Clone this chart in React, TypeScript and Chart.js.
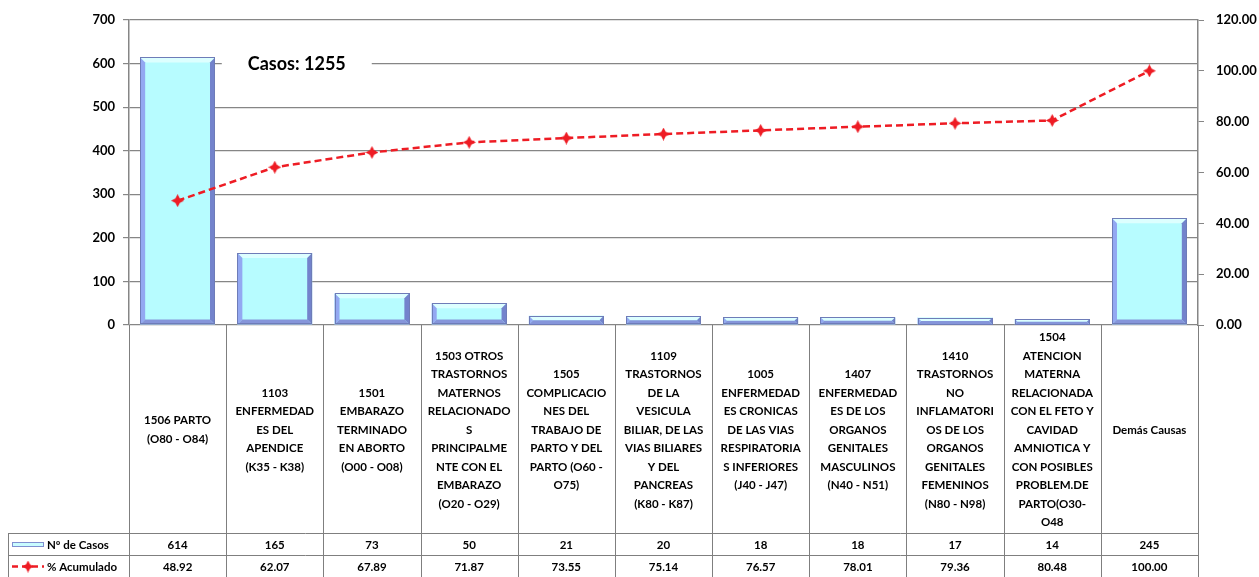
import { useEffect, useRef } from 'react';
import { Chart, registerables } from 'chart.js';

Chart.register(...registerables);

const FONT = 'Lato, "Open Sans", "Liberation Sans", sans-serif';

const categories: string[][] = [
  ['1506 PARTO', '(O80 - O84)'],
  ['1103', 'ENFERMEDAD', 'ES DEL', 'APENDICE', '(K35 - K38)'],
  ['1501', 'EMBARAZO', 'TERMINADO', 'EN ABORTO', '(O00 - O08)'],
  ['1503 OTROS', 'TRASTORNOS', 'MATERNOS', 'RELACIONADO', 'S', 'PRINCIPALME', 'NTE CON EL', 'EMBARAZO', '(O20 - O29)'],
  ['1505', 'COMPLICACIO', 'NES DEL', 'TRABAJO DE', 'PARTO Y DEL', 'PARTO (O60 -', 'O75)'],
  ['1109', 'TRASTORNOS', 'DE LA', 'VESICULA', 'BILIAR, DE LAS', 'VIAS BILIARES', 'Y DEL', 'PANCREAS', '(K80 - K87)'],
  ['1005', 'ENFERMEDAD', 'ES CRONICAS', 'DE LAS VIAS', 'RESPIRATORIA', 'S INFERIORES', '(J40 - J47)'],
  ['1407', 'ENFERMEDAD', 'ES DE LOS', 'ORGANOS', 'GENITALES', 'MASCULINOS', '(N40 - N51)'],
  ['1410', 'TRASTORNOS', 'NO', 'INFLAMATORI', 'OS DE LOS', 'ORGANOS', 'GENITALES', 'FEMENINOS', '(N80 - N98)'],
  ['1504', 'ATENCION', 'MATERNA', 'RELACIONADA', 'CON EL FETO Y', 'CAVIDAD', 'AMNIOTICA Y', 'CON POSIBLES', 'PROBLEM.DE', 'PARTO(O30-', 'O48'],
  ['Demás Causas'],
];

const casos: number[] = [614, 165, 73, 50, 21, 20, 18, 18, 17, 14, 245];
const acumulado: number[] = [48.92, 62.07, 67.89, 71.87, 73.55, 75.14, 76.57, 78.01, 79.36, 80.48, 100.0];

const seriesNames: string[] = ['Nº de Casos', '% Acumulado'];
const totalLabel = 'Casos: 1255';

const leftAxis = { min: 0, max: 700, step: 100 };
const rightAxis = { min: 0, max: 120, step: 20 };

const GRID = '#868686';
const TABLE_LINE = '#7f7f7f';
const RED = '#EE1C24';

function makeStar(size: number, color: string): HTMLCanvasElement {
  const c = document.createElement('canvas');
  c.width = size;
  c.height = size;
  const g = c.getContext('2d')!;
  const m = size / 2;
  const r = size / 2;
  const ri = size * 0.17;
  g.fillStyle = color;
  g.beginPath();
  g.moveTo(m, m - r);
  g.lineTo(m + ri, m - ri);
  g.lineTo(m + r, m);
  g.lineTo(m + ri, m + ri);
  g.lineTo(m, m + r);
  g.lineTo(m - ri, m + ri);
  g.lineTo(m - r, m);
  g.lineTo(m - ri, m - ri);
  g.closePath();
  g.fill();
  return c;
}

let starImg: HTMLCanvasElement | null = null;

const bevelPlugin = {
  id: 'bevel',
  afterDatasetDraw(chart: any, args: any) {
    if (args.index !== 0) return;
    const ctx = chart.ctx;
    const meta = chart.getDatasetMeta(0);
    meta.data.forEach((bar: any) => {
      const p = bar.getProps(['x', 'y', 'base', 'width'], true);
      const l = p.x - p.width / 2;
      const r = p.x + p.width / 2;
      const t = p.y;
      const b = p.base;
      const bv = Math.min(5, (b - t) / 2);
      const poly = (pts: number[][], color: string) => {
        ctx.beginPath();
        ctx.moveTo(pts[0][0], pts[0][1]);
        for (let i = 1; i < pts.length; i++) ctx.lineTo(pts[i][0], pts[i][1]);
        ctx.closePath();
        ctx.fillStyle = color;
        ctx.fill();
      };
      ctx.save();
      poly([[l, t], [r, t], [r - bv, t + bv], [l + bv, t + bv]], '#DDFFFF');
      poly([[l, t], [l + bv, t + bv], [l + bv, b - bv], [l, b]], '#93A8F2');
      poly([[r, t], [r, b], [r - bv, b - bv], [r - bv, t + bv]], '#7383CC');
      poly([[l, b], [l + bv, b - bv], [r - bv, b - bv], [r, b]], '#8595DA');
      ctx.strokeStyle = '#6E7CB8';
      ctx.lineWidth = 1;
      ctx.strokeRect(Math.round(l) + 0.5, Math.round(t) + 0.5, Math.round(r - l) - 1, Math.round(b - t) - 1);
      ctx.restore();
    });
  },
};

const tablePlugin = {
  id: 'dataTable',
  afterDraw(chart: any) {
    const ctx = chart.ctx;
    const xs = chart.scales.x;
    const ys = chart.scales.y;
    const area = chart.chartArea;
    const H = chart.height;
    const n = categories.length;
    const step = (xs.right - xs.left) / n;
    const rowH = 22;
    const row2Top = H - rowH;
    const row1Top = H - 2 * rowH;
    const tableLeft = 8;

    ctx.save();
    // total label box
    const bx = xs.getPixelForValue(1) + 22;
    const by = ys.getPixelForValue(600);
    ctx.font = `bold 18px ${FONT}`;
    const tw = ctx.measureText(totalLabel).width;
    ctx.fillStyle = '#ffffff';
    ctx.fillRect(bx - tw / 2 - 26, by - 12, tw + 52, 24);
    ctx.fillStyle = '#000';
    ctx.textAlign = 'center';
    ctx.textBaseline = 'middle';
    ctx.fillText(totalLabel, bx, by + 1);

    // table lines
    ctx.strokeStyle = TABLE_LINE;
    ctx.lineWidth = 1;
    ctx.beginPath();
    for (let i = 0; i <= n; i++) {
      const x = Math.round(xs.left + i * step) + 0.5;
      ctx.moveTo(x, area.bottom);
      ctx.lineTo(x, H);
    }
    ctx.moveTo(tableLeft + 0.5, row1Top);
    ctx.lineTo(tableLeft + 0.5, H);
    ctx.moveTo(tableLeft, row1Top + 0.5);
    ctx.lineTo(xs.right, row1Top + 0.5);
    ctx.moveTo(tableLeft, row2Top + 0.5);
    ctx.lineTo(xs.right, row2Top + 0.5);
    ctx.stroke();

    // category labels
    ctx.fillStyle = '#000';
    ctx.font = `bold 11.5px ${FONT}`;
    ctx.textAlign = 'center';
    ctx.textBaseline = 'middle';
    const lh = 18.5;
    const cy = (area.bottom + row1Top) / 2 + 1;
    categories.forEach((lines, i) => {
      const cx = xs.getPixelForValue(i);
      const y0 = cy - ((lines.length - 1) * lh) / 2;
      lines.forEach((ln, j) => ctx.fillText(ln, cx, y0 + j * lh));
      ctx.fillText(String(casos[i]), cx, row1Top + rowH / 2 + 1);
      ctx.fillText(acumulado[i].toFixed(2), cx, row2Top + rowH / 2 + 1);
    });

    // row headers
    ctx.textAlign = 'left';
    ctx.font = `bold 11.5px ${FONT}`;
    ctx.fillText(seriesNames[0], 47, row1Top + rowH / 2 + 1);
    ctx.fillText(seriesNames[1], 47, row2Top + rowH / 2 + 1);

    // legend keys
    ctx.fillStyle = '#C9FCFF';
    ctx.fillRect(12, row1Top + 9, 32, 5);
    ctx.strokeStyle = '#7F8FD0';
    ctx.strokeRect(12.5, row1Top + 9.5, 31, 4);
    const ly = row2Top + rowH / 2 + 0.5;
    ctx.strokeStyle = RED;
    ctx.lineWidth = 2.5;
    ctx.setLineDash([6, 4]);
    ctx.beginPath();
    ctx.moveTo(12, ly);
    ctx.lineTo(44, ly);
    ctx.stroke();
    ctx.setLineDash([]);
    if (starImg) ctx.drawImage(starImg, 28 - 6, ly - 6, 12, 12);
    ctx.restore();
  },
};

export default function App() {
  const ref = useRef<HTMLCanvasElement>(null);
  useEffect(() => {
    const canvas = ref.current!;
    starImg = makeStar(13, RED);
    const chart: any = new Chart(canvas, {
      type: 'bar',
      data: {
        labels: categories,
        datasets: [
          {
            type: 'bar',
            label: seriesNames[0],
            data: casos,
            yAxisID: 'y',
            backgroundColor: '#B7FCFF',
            borderWidth: 0,
            categoryPercentage: 1,
            barPercentage: 0.77,
            order: 2,
          },
          {
            type: 'line',
            label: seriesNames[1],
            data: acumulado,
            yAxisID: 'y1',
            borderColor: RED,
            backgroundColor: RED,
            borderWidth: 2.5,
            borderDash: [7, 4],
            pointStyle: starImg,
            pointRadius: 6,
            tension: 0,
            fill: false,
            order: 1,
          },
        ] as any,
      },
      options: {
        responsive: false,
        animation: false,
        devicePixelRatio: 1,
        layout: { padding: { top: 20, left: 0, right: 0, bottom: 0 } },
        plugins: { legend: { display: false }, tooltip: { enabled: false } },
        scales: {
          x: {
            position: 'bottom',
            ticks: { display: false },
            grid: { display: false },
            border: { display: false },
            afterFit: (s: any) => {
              s.height = 252;
            },
          },
          y: {
            position: 'left',
            min: leftAxis.min,
            max: leftAxis.max,
            ticks: {
              stepSize: leftAxis.step,
              color: '#000',
              padding: 8,
              font: { family: FONT, size: 13, weight: 'bold' },
            },
            grid: { color: GRID, lineWidth: 1.2, tickLength: 6, tickColor: GRID },
            border: { color: GRID, width: 1.5 },
            afterFit: (s: any) => {
              s.width = 129;
            },
          },
          y1: {
            position: 'right',
            min: rightAxis.min,
            max: rightAxis.max,
            ticks: {
              stepSize: rightAxis.step,
              color: '#000',
              padding: 12,
              font: { family: FONT, size: 13, weight: 'bold' },
              callback: (v: any) => Number(v).toFixed(2),
            },
            grid: { drawOnChartArea: false, tickLength: 6, color: GRID },
            border: { color: GRID, width: 1.5 },
            afterFit: (s: any) => {
              s.width = 61;
            },
          },
        },
      } as any,
      plugins: [bevelPlugin, tablePlugin],
    });
    return () => chart.destroy();
  }, []);
  return (
    <div style={{ position: 'fixed', left: 0, top: 0, width: 1259, height: 577, background: '#fff' }}>
      <canvas ref={ref} width={1259} height={577} style={{ display: 'block' }} />
    </div>
  );
}
